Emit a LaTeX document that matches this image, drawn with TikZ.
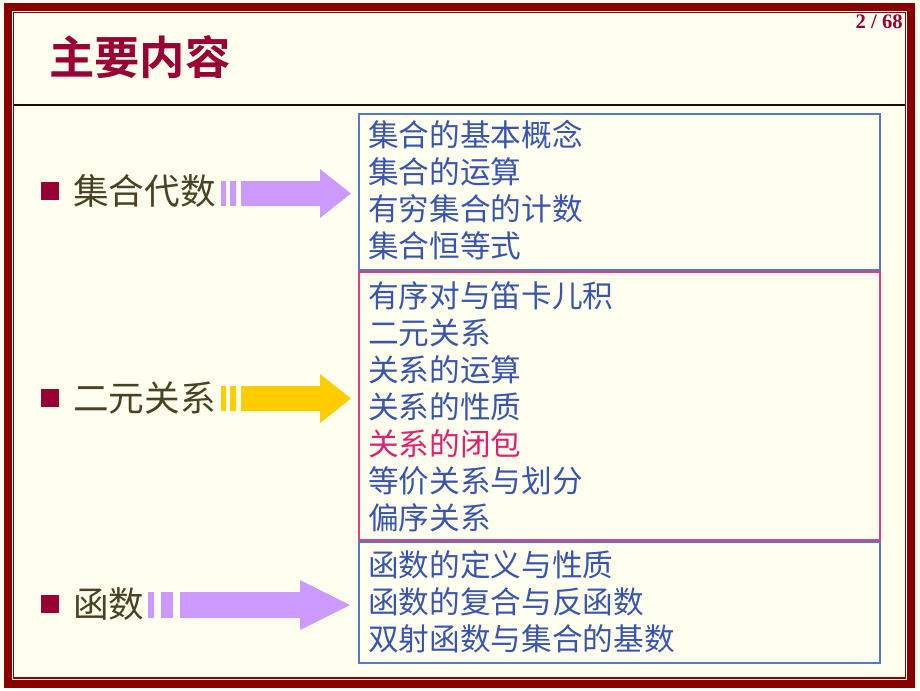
\documentclass[tikz,border=0pt]{standalone}
\usepackage{fontspec}
\newfontfamily\cjk{Noto Sans CJK SC}
\newfontfamily\cjkb{Noto Sans CJK SC Bold}
\setmainfont{Liberation Serif}
\definecolor{frame}{HTML}{880000}
\definecolor{bg}{HTML}{FFFFF0}
\definecolor{tit}{HTML}{990033}
\definecolor{lbl}{HTML}{4A4224}
\definecolor{itm}{HTML}{3A55B0}
\definecolor{bbox}{HTML}{5577CC}
\definecolor{pbox}{HTML}{E0407A}
\definecolor{pitm}{HTML}{E02070}
\definecolor{purp}{HTML}{CC99FF}
\definecolor{yel}{HTML}{FFCC00}
\begin{document}
\begin{tikzpicture}[x=0.75pt,y=-0.75pt,
  lbltxt/.style={anchor=west,inner sep=0,text=lbl,font=\cjk\fontsize{26.7}{30}\selectfont},
  itmtxt/.style={anchor=west,inner sep=0,text=itm,font=\cjk\fontsize{23}{27.75}\selectfont,align=left},
  bul/.style={fill=tit,minimum size=13pt,inner sep=0},
  lst/.style={draw=bbox,line width=1.5pt}]
\fill[bg] (0,0) rectangle (920,690);
\useasboundingbox (0,0) rectangle (920,690);
\draw[frame,line width=6pt] (8,6.5) rectangle (911,684);
\draw[frame,line width=1pt] (13.5,12.5) rectangle (905.5,678);
\draw[black!80!purple,line width=1.5pt] (14,105) -- (905,105);
\node[anchor=west,inner sep=0,text=tit,font=\cjkb\fontsize{34}{40}\selectfont] (title) at (49,57) {主要内容};
\node[anchor=east,inner sep=0,text=tit,font=\bfseries\fontsize{15.5}{17}\selectfont] (pg) at (903,22) {2 / 68};
% rows
\node[bul] (b1) at (50,191) {};
\node[lbltxt] (l1) at (73,191) {集合代数};
\node[bul] (b2) at (50,398) {};
\node[lbltxt] (l2) at (73,398) {二元关系};
\node[bul] (b3) at (50,604) {};
\node[lbltxt] (l3) at (73,604) {函数};
% arrows
\fill[purp] (221,181) rectangle (226,206) (230,181) rectangle (236,206);
\fill[purp] (241,181) -- (320,181) -- (320,169) -- (351,193.5) -- (320,218) -- (320,206) -- (241,206) -- cycle;
\fill[yel] (221,386) rectangle (226,411) (230,386) rectangle (236,411);
\fill[yel] (241,386) -- (320,386) -- (320,374) -- (351,398.5) -- (320,423) -- (320,411) -- (241,411) -- cycle;
\fill[purp] (148,592) rectangle (154,618) (161,592) rectangle (173,618);
\fill[purp] (180,592) -- (300,592) -- (300,580) -- (350,605) -- (300,630) -- (300,618) -- (180,618) -- cycle;
% boxes
\draw[lst] (358.5,113.5) rectangle (880,270);
\draw[lst,draw=pbox] (358.5,272) rectangle (880,540);
\draw[lst] (358.5,542) rectangle (880,663);
\node[itmtxt,anchor=north west] (t1) at (368,120) {集合的基本概念\\集合的运算\\有穷集合的计数\\集合恒等式};
\node[itmtxt,anchor=north west] (t2) at (368,281) {有序对与笛卡儿积\\二元关系\\关系的运算\\关系的性质\\\textcolor{pitm}{关系的闭包}\\等价关系与划分\\偏序关系};
\node[itmtxt,anchor=north west] (t3) at (368,550) {函数的定义与性质\\函数的复合与反函数\\双射函数与集合的基数};
\end{tikzpicture}
\end{document}
